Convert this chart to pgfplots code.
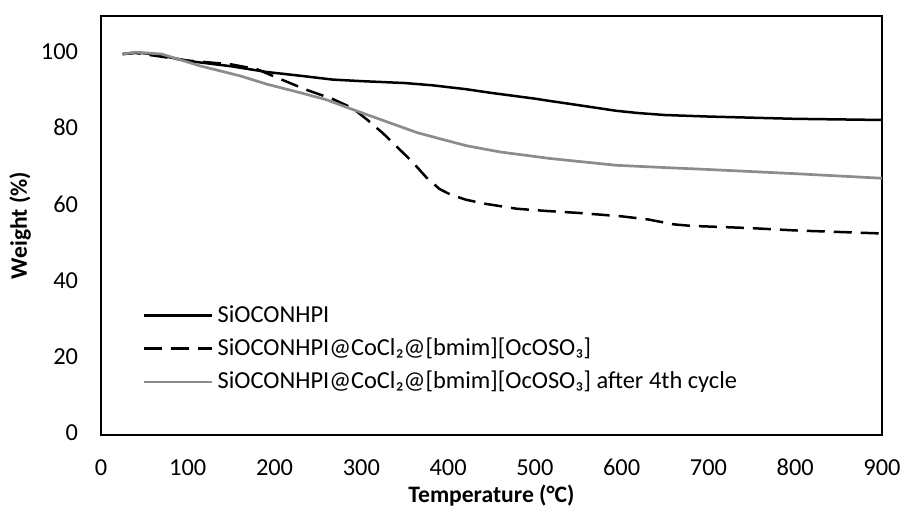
\documentclass[border=0pt]{standalone}
\usepackage{fontspec}
\setmainfont{Carlito}
\usepackage{pgfplots}
\pgfplotsset{compat=1.18}
\definecolor{cyclegray}{RGB}{140,140,140}

\begin{document}
\fontsize{12.2}{14}\selectfont
\begin{tikzpicture}
\begin{axis}[
    scale only axis,
    width=390.5pt,
    height=209.5pt,
    xmin=0, xmax=900,
    ymin=0, ymax=110,
    xtick={0,100,...,900},
    ytick={0,20,...,100},
    major tick length=0pt,
    every axis/.append style={line width=0.8pt},
    tick label style={font=\fontsize{12.2}{14}\selectfont},
    /pgf/number format/assume math mode=true,
    typeset ticklabels with strut,
    xticklabel style={yshift=-6pt},
    yticklabel style={xshift=-7pt},
    xlabel={\textbf{Temperature (°C)}},
    ylabel={\textbf{Weight (\%)}},
    xlabel style={at={(rel axis cs:0.5,0)}, anchor=base, yshift=-33.8pt,
        font=\fontsize{11.8}{14}\selectfont},
    ylabel style={at={(rel axis cs:0,0.5)}, anchor=center, rotate=0, yshift=40.5pt,
        font=\fontsize{11.8}{14}\selectfont},
    legend cell align=left,
    legend style={draw=none, fill=none, font=\fontsize{12.2}{14}\selectfont,
        at={(rel axis cs:0.045,0.33)}, anchor=north west, row sep=2pt},
    legend image code/.code={\draw[#1] (0pt,0pt) -- (34pt,0pt);},
]

\addplot[black, line width=1.25pt] coordinates {
    (25,100.0) (40,100.4) (60,100.0) (100,98.2) (150,96.8) (191,95.3)
    (230,94.3) (267,93.3) (300,92.9) (350,92.4) (382,91.8) (420,90.8)
    (450,89.8) (500,88.3) (517,87.7) (550,86.6) (594,85.1) (620,84.5)
    (650,84.0) (700,83.6) (800,83.0) (900,82.7)
};
\addlegendentry{SiOCONHPI}

\addplot[black, line width=1.25pt, dash pattern=on 9pt off 4.5pt] coordinates {
    (25,100.0) (40,100.3) (100,98.3) (150,97.3) (180,96.0) (206,93.5)
    (237,90.6) (267,88.2) (290,85.8) (306,82.9) (325,79.2) (344,75.0)
    (360,71.4) (375,67.6) (390,64.6) (402,63.2) (420,61.8) (440,60.8)
    (479,59.4) (514,58.8) (550,58.3) (600,57.4) (630,56.6) (660,55.3)
    (680,54.9) (750,54.3) (800,53.7) (900,52.9)
};
\addlegendentry{SiOCONHPI@CoCl₂@[bmim][OcOSO₃]}

\addplot[cyclegray, line width=1.35pt] coordinates {
    (25,100.0) (40,100.5) (70,100.0) (100,97.9) (114,96.9) (160,94.3)
    (191,92.1) (229,89.9) (260,88.0) (287,85.7) (320,83.0) (364,79.4)
    (400,77.2) (422,75.9) (460,74.3) (517,72.6) (594,70.8) (650,70.2)
    (700,69.7) (800,68.6) (900,67.4)
};
\addlegendentry{SiOCONHPI@CoCl₂@[bmim][OcOSO₃] after 4th cycle}

\coordinate (O) at (rel axis cs:0,0);
\end{axis}
\pgfresetboundingbox
\path (O) ++(-50.5pt,-35.5pt) rectangle ++(450.5pt,253pt);
\end{tikzpicture}
\end{document}
